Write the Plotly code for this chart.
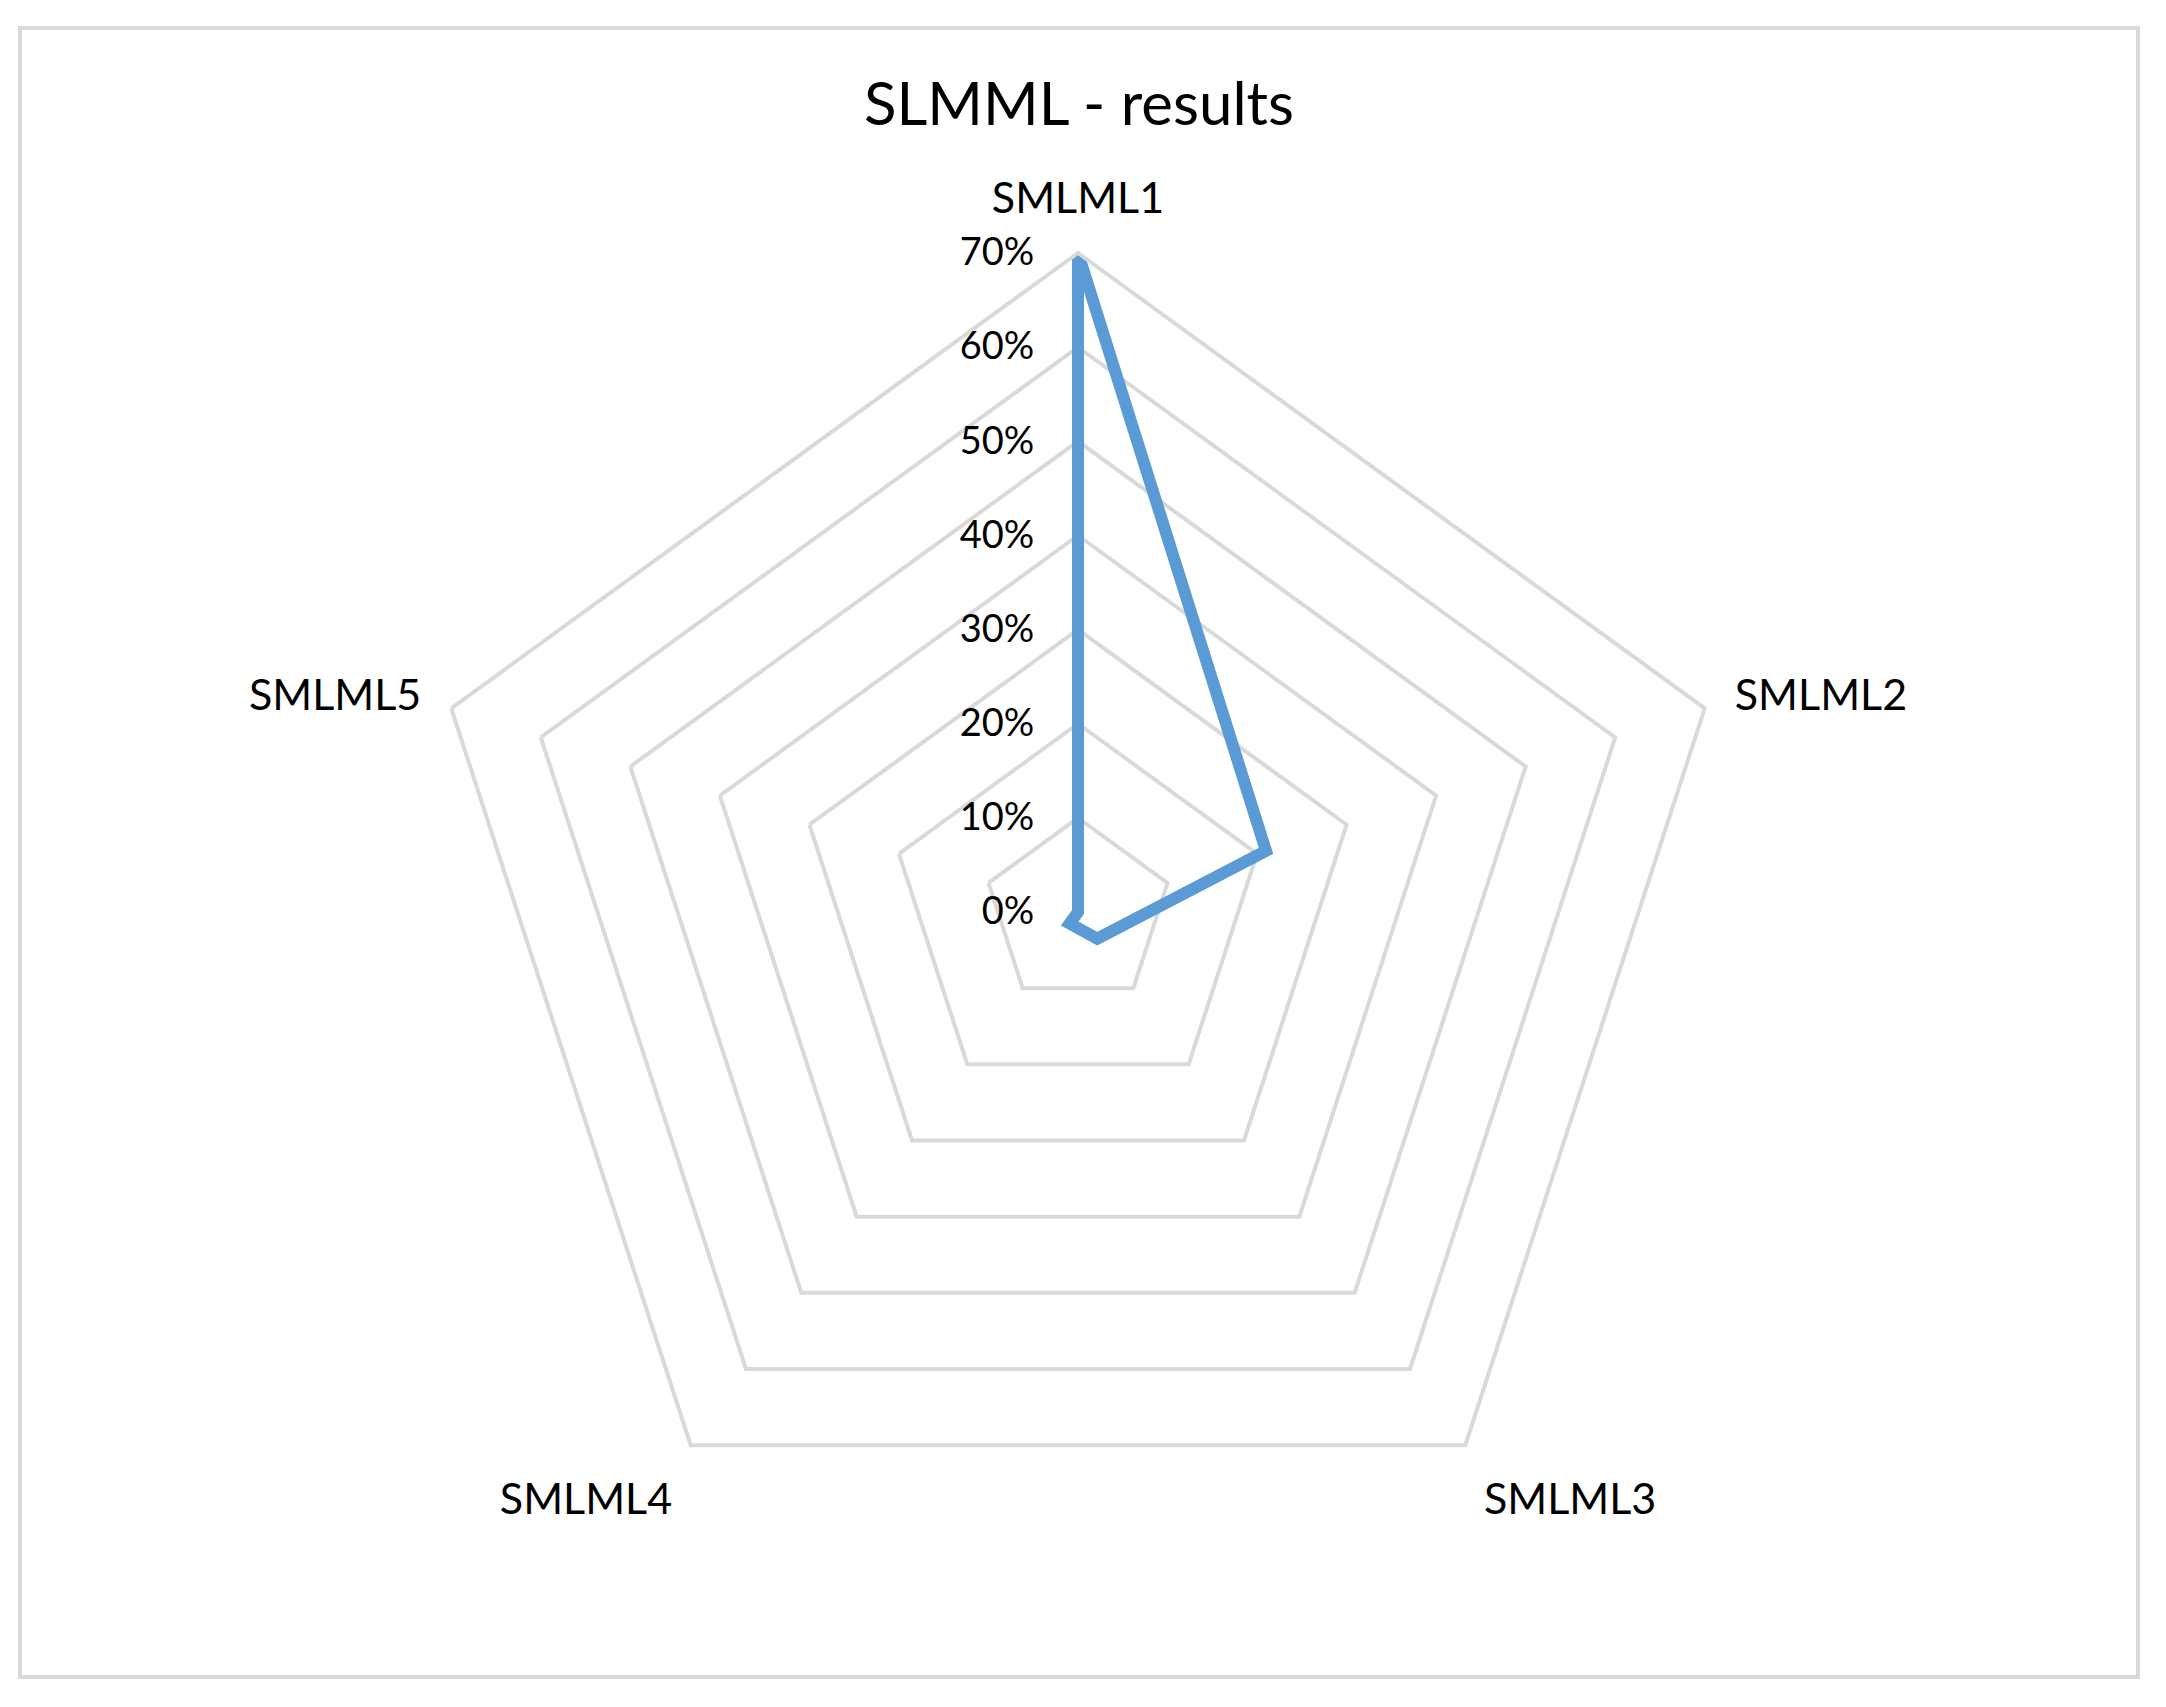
import plotly.graph_objects as go

categories = ['SMLML1', 'SMLML2', 'SMLML3', 'SMLML4', 'SMLML5']
results = [0.70, 0.21, 0.035, 0.015, 0.0]
tick_vals = [0, 0.1, 0.2, 0.3, 0.4, 0.5, 0.6, 0.7]

W, H = 2166, 1707
grid_col = '#d9d9d9'
# page body has an 8px margin, so positions below are shifted by it
cx, cy, rad = 1070, 1707 - 904, 659

fig = go.Figure()
fig.add_trace(go.Scatterpolar(
    r=results + results[:1],
    theta=categories + categories[:1],
    mode='lines',
    line=dict(color='#5b9bd5', width=12),
    showlegend=False,
    hoverinfo='skip',
))

fig.update_layout(
    width=W, height=H,
    margin=dict(l=0, r=0, t=0, b=0),
    paper_bgcolor='white',
    font=dict(family='Lato, Liberation Sans, sans-serif', color='black'),
    title=dict(text='SLMML - results', x=(1079 - 8) / W, xanchor='center', y=1 - 96 / H, yanchor='middle',
               font=dict(size=60, color='black')),
    polar=dict(
        bgcolor='white',
        gridshape='linear',
        domain=dict(x=[(cx - rad) / W, (cx + rad) / W], y=[(cy - rad) / H, (cy + rad) / H]),
        angularaxis=dict(
            direction='clockwise', rotation=90,
            showgrid=False, showline=True, linecolor=grid_col, linewidth=4,
            ticks='outside', ticklen=21, tickcolor='rgba(0,0,0,0)',
            tickfont=dict(size=43, color='black'),
        ),
        radialaxis=dict(
            range=[0, 0.7], tickvals=tick_vals, tickformat='.0%',
            angle=90, tickangle=90, side='counterclockwise',
            showline=False, ticks='outside', ticklen=30, tickcolor='rgba(0,0,0,0)',
            gridcolor=grid_col, gridwidth=4,
            tickfont=dict(size=38, color='black'),
        ),
    ),
    shapes=[dict(type='rect', xref='paper', yref='paper',
                 x0=12 / W, x1=2130 / W, y0=1 - 1669 / H, y1=1 - 20 / H,
                 line=dict(color=grid_col, width=4), fillcolor='rgba(0,0,0,0)')],
)

fig.write_html('out.html')
